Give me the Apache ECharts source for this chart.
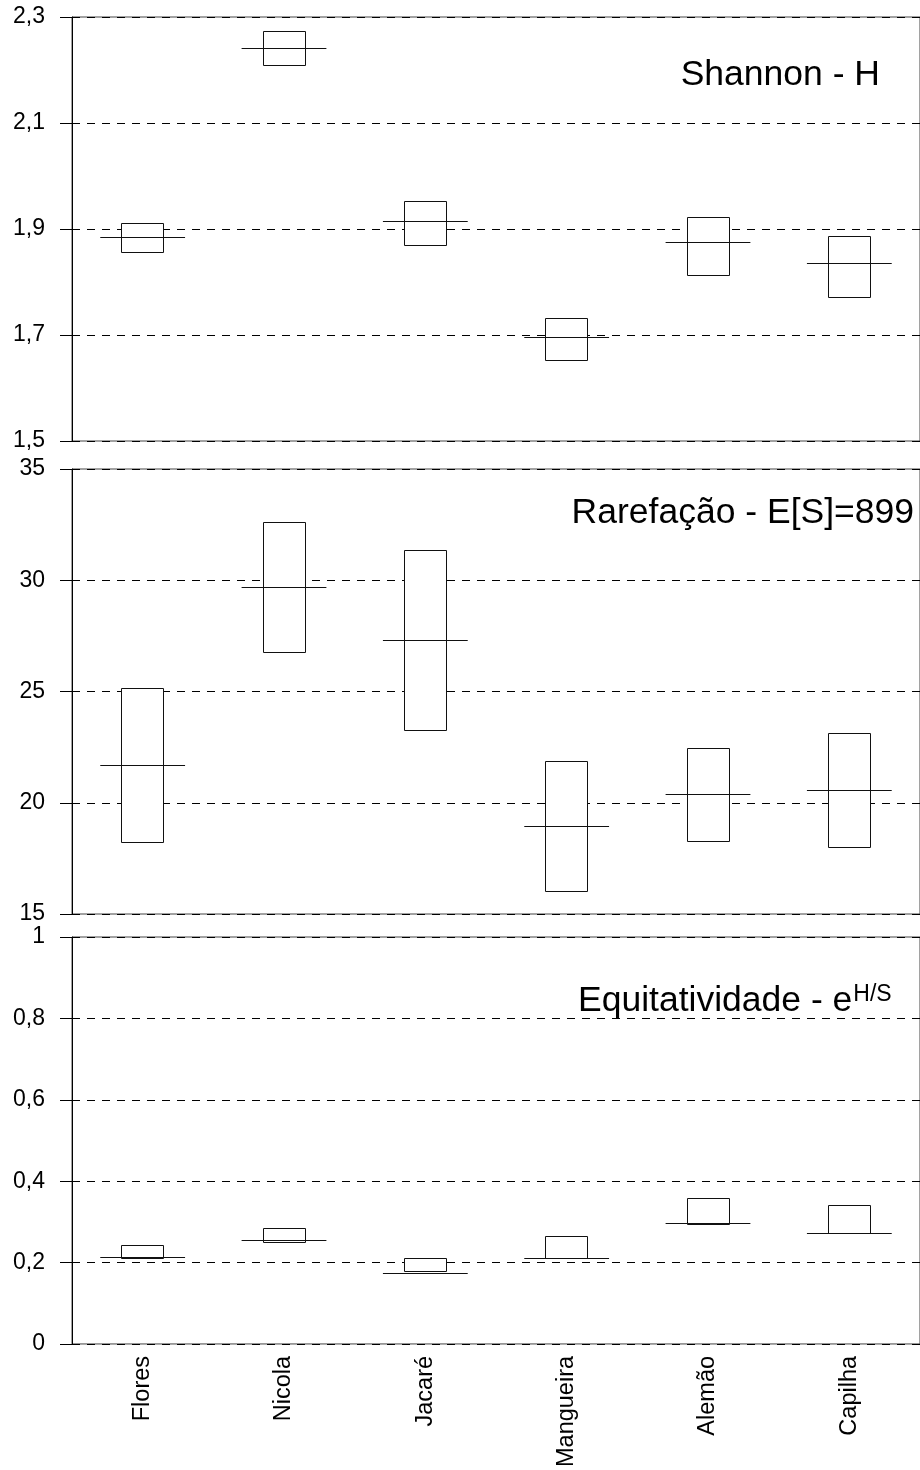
<!DOCTYPE html>
<html>
<head>
<meta charset="utf-8">
<script src="https://cdn.jsdelivr.net/npm/echarts@6/dist/echarts.min.js"></script>
<style>
html,body{margin:0;padding:0;background:#fff;}
#chart{width:920px;height:1470px;}
</style>
</head>
<body>
<div id="chart"></div>
<script>
// ---- data ----
const categories = ['Flores', 'Nicola', 'Jacaré', 'Mangueira', 'Alemão', 'Capilha'];

const shannonLow  = [1.856, 2.208, 1.869, 1.653, 1.814, 1.770];
const shannonHigh = [1.911, 2.273, 1.952, 1.733, 1.923, 1.886];
const shannonMean = [1.884, 2.242, 1.915, 1.696, 1.876, 1.836];

const rarefLow  = [18.22, 26.78, 23.28, 16.03, 18.28, 18.00];
const rarefHigh = [25.16, 32.63, 31.37, 21.88, 22.46, 23.13];
const rarefMean = [21.68, 29.70, 27.33, 18.96, 20.39, 20.57];

const equitLow  = [0.212, 0.2525, 0.178, 0.212, 0.293, 0.272];
const equitHigh = [0.243, 0.286, 0.211, 0.265, 0.358, 0.342];
const equitMean = [0.213, 0.255, 0.174, 0.211, 0.297, 0.272];

const panelTitles = ['Shannon - H', 'Rarefação - E[S]=899', 'Equitatividade - e'];
const equitSup = 'H/S';

// ---- build ----
const FONT = '"Liberation Sans", Arial, sans-serif';
function build(low, high, mean) {
  return categories.map((c, i) => [i, low[i], high[i], mean[i]]);
}
function renderItem(params, api) {
  const x = api.value(0);
  const pLow = api.coord([x, api.value(1)]);
  const pHigh = api.coord([x, api.value(2)]);
  const pMean = api.coord([x, api.value(3)]);
  const band = api.size([1, 0])[0];
  const bw = band * 0.3, lw = band * 0.6;
  return {
    type: 'group',
    children: [
      { type: 'rect', shape: { x: Math.round(pLow[0] - bw / 2) + 0.5, y: Math.round(pHigh[1]) + 0.5, width: Math.round(bw), height: Math.round(pLow[1] - pHigh[1]) },
        style: { fill: '#fff', stroke: '#111', lineWidth: 1 } },
      { type: 'line', shape: { x1: pMean[0] - lw / 2, y1: Math.round(pMean[1]) + 0.5, x2: pMean[0] + lw / 2, y2: Math.round(pMean[1]) + 0.5 },
        style: { stroke: '#111', lineWidth: 1 } }
    ]
  };
}
const grids = [
  { left: 72, right: -3, top: 17, height: 424 },
  { left: 72, right: -3, top: 469, height: 445 },
  { left: 72, right: -3, top: 937, height: 408 }
].map(g => Object.assign({ show: true, borderColor: '#444', borderWidth: 1, backgroundColor: 'transparent' }, g));

const yRanges = [
  { min: 1.5, max: 2.3, interval: 0.2 },
  { min: 15, max: 35, interval: 5 },
  { min: 0, max: 1, interval: 0.2 }
];

const xAxes = grids.map((g, k) => ({
  type: 'category', gridIndex: k, data: categories, boundaryGap: true,
  axisLine: { show: false }, axisTick: { show: false }, splitLine: { show: false },
  axisLabel: k === 2 ? { show: true, rotate: 90, margin: 12, fontSize: 23.5, fontFamily: FONT, color: '#000', interval: 0 } : { show: false }
}));

const yAxes = yRanges.map((r, k) => ({
  type: 'value', gridIndex: k, min: r.min, max: r.max, interval: r.interval,
  axisLine: { show: true, lineStyle: { color: '#000', width: 1 } },
  axisTick: { show: true, length: 12, lineStyle: { color: '#000' } },
  splitLine: { show: true, lineStyle: { color: '#000', type: [8, 7], width: 1 } },
  axisLabel: { margin: 27, fontSize: 23, fontFamily: FONT, color: '#000',
    formatter: v => String(Math.round(v * 100) / 100).replace('.', ',') }
}));

const datasets = [
  build(shannonLow, shannonHigh, shannonMean),
  build(rarefLow, rarefHigh, rarefMean),
  build(equitLow, equitHigh, equitMean)
];

const series = datasets.map((d, k) => ({
  type: 'custom', xAxisIndex: k, yAxisIndex: k, data: d,
  encode: { x: 0, y: [1, 2, 3] }, renderItem: renderItem, z: 5, silent: true
}));

const option = {
  animation: false,
  backgroundColor: '#fff',
  grid: grids,
  xAxis: xAxes,
  yAxis: yAxes,
  series: series,
  graphic: [
    { type: 'text', x: 880, y: 75, z: 10,
      style: { text: panelTitles[0], font: '35.5px ' + FONT, fill: '#000', align: 'right', verticalAlign: 'middle' } },
    { type: 'text', x: 914, y: 513, z: 10,
      style: { text: panelTitles[1], font: '35.5px ' + FONT, fill: '#000', align: 'right', verticalAlign: 'middle' } },
    { type: 'text', x: 578, y: 1001, z: 10,
      style: { text: '{m|' + panelTitles[2] + '}{s|' + equitSup + '}', align: 'left', verticalAlign: 'middle',
        rich: {
          m: { fontSize: 35.5, fontFamily: FONT, fill: '#000', color: '#000' },
          s: { fontSize: 23, fontFamily: FONT, fill: '#000', color: '#000', verticalAlign: 'top', padding: [0, 0, 0, 1] }
        } } }
  ]
};
const chart = echarts.init(document.getElementById('chart'), null, { renderer: 'canvas' });
chart.setOption(option);
</script>
</body>
</html>
